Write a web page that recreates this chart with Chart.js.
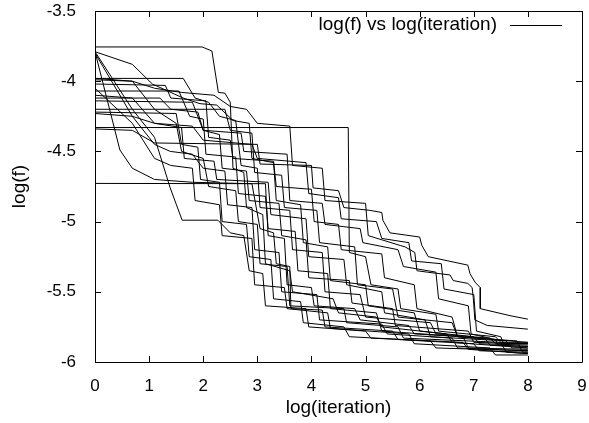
<!DOCTYPE html>
<html lang="en">
<head>
<meta charset="UTF-8">
<title>log(f) vs log(iteration)</title>
<script src="https://cdn.jsdelivr.net/npm/chart.js"></script>
<style>
    html, body { margin: 0; padding: 0; background: #fff; }
    #wrap { width: 589px; height: 423px; }
</style>
</head>
<body>
<div id="wrap"><canvas id="c" width="589" height="423"></canvas></div>
<script>
// each run: [log(iteration), log(f)] vertices of the best-so-far curve
const run01 = [[0,-3.756],[1.98,-3.756],[2.16,-3.785],[2.28,-4.08],[2.4,-4.085],[2.5,-4.15],[2.55,-4.62],[2.75,-4.65],[2.8,-4.9],[3.1,-4.95],[3.15,-5.3],[3.6,-5.35],[3.65,-5.5],[4.4,-5.55],[4.5,-5.65],[5.2,-5.68],[5.3,-5.75],[6.5,-5.8],[6.6,-5.86],[8,-5.9]];
const run02 = [[0,-3.79],[0.46,-4.49],[0.69,-4.62],[1.1,-4.70],[1.8,-4.72],[2.9,-4.73],[3.05,-5.05],[3.3,-5.08],[3.35,-5.3],[3.6,-5.32],[3.62,-5.62],[4.2,-5.63],[4.25,-5.75],[5.5,-5.78],[5.6,-5.84],[7.0,-5.87],[7.1,-5.92],[8,-5.93]];
const run03 = [[0,-4.728],[3.15,-4.73],[3.2,-5.1],[3.5,-5.12],[3.55,-5.45],[4.0,-5.47],[4.05,-5.6],[4.8,-5.62],[4.9,-5.7],[5.8,-5.74],[5.9,-5.8],[7.2,-5.83],[7.3,-5.88],[8,-5.89]];
const run04 = [[0,-3.79],[0.69,-4.2],[1.1,-4.4],[1.39,-4.76],[1.61,-4.99],[2.27,-4.99],[2.5,-5.08],[2.75,-5.1],[2.85,-5.35],[3.1,-5.37],[3.15,-5.6],[3.9,-5.62],[3.95,-5.75],[5.0,-5.78],[5.1,-5.83],[6.8,-5.86],[6.9,-5.91],[8,-5.94]];
const run05 = [[0,-3.79],[0.69,-3.88],[1.06,-4.02],[1.63,-4.12],[1.94,-4.16],[2.25,-4.17],[2.55,-4.28],[2.85,-4.3],[2.9,-4.55],[3.3,-4.58],[3.35,-4.85],[3.8,-4.88],[3.85,-5.15],[4.3,-5.18],[4.35,-5.42],[5.0,-5.45],[5.05,-5.6],[5.9,-5.65],[6.0,-5.78],[7.0,-5.82],[7.1,-5.87],[8,-5.88]];
const run06 = [[0,-3.8],[0.69,-4.25],[1.1,-4.45],[1.39,-4.5],[1.8,-4.52],[2.0,-4.62],[2.4,-4.64],[2.45,-4.88],[2.9,-4.9],[2.95,-5.2],[3.4,-5.22],[3.45,-5.5],[4.1,-5.52],[4.15,-5.7],[5.3,-5.73],[5.4,-5.8],[6.6,-5.83],[6.7,-5.9],[8,-5.92]];
const run07 = [[0,-3.98],[1.63,-3.98],[1.85,-4.12],[2.1,-4.15],[2.3,-4.25],[2.6,-4.28],[2.7,-4.6],[3.0,-4.62],[3.05,-4.9],[3.6,-4.92],[3.65,-5.2],[4.2,-5.22],[4.25,-5.5],[4.9,-5.52],[5.0,-5.68],[6.2,-5.72],[6.3,-5.8],[7.3,-5.83],[7.4,-5.87],[8,-5.87]];
const run08 = [[0,-3.99],[0.69,-4.0],[1.1,-4.2],[1.5,-4.3],[1.6,-4.5],[2.0,-4.55],[2.1,-4.75],[2.6,-4.78],[2.65,-5.0],[3.0,-5.02],[3.05,-5.3],[3.55,-5.32],[3.6,-5.6],[4.6,-5.62],[4.65,-5.72],[5.6,-5.75],[5.7,-5.83],[7.5,-5.86],[7.6,-5.93],[8,-5.94]];
const run09 = [[0,-4.02],[1.3,-4.03],[1.4,-4.12],[2.05,-4.14],[2.1,-4.4],[2.5,-4.42],[2.55,-4.55],[3.3,-4.57],[3.35,-4.75],[4.0,-4.77],[4.05,-5.0],[4.5,-5.02],[4.55,-5.2],[5.3,-5.23],[5.35,-5.4],[5.9,-5.45],[5.95,-5.62],[6.6,-5.68],[6.7,-5.82],[8,-5.86]];
const run10 = [[0,-4.07],[1.55,-4.07],[1.75,-4.25],[2.0,-4.27],[2.05,-4.52],[2.6,-4.54],[2.65,-4.8],[3.15,-4.82],[3.2,-5.05],[3.7,-5.07],[3.75,-5.35],[4.3,-5.37],[4.35,-5.62],[5.2,-5.65],[5.3,-5.78],[6.8,-5.82],[6.9,-5.9],[8,-5.91]];
const run11 = [[0,-4.10],[0.69,-4.12],[1.1,-4.3],[1.6,-4.33],[1.65,-4.55],[2.2,-4.57],[2.25,-4.7],[3.2,-4.72],[3.25,-4.95],[3.9,-4.98],[3.95,-5.25],[4.6,-5.27],[4.65,-5.45],[5.3,-5.5],[5.35,-5.65],[6.1,-5.7],[6.2,-5.82],[7.6,-5.85],[7.7,-5.9],[8,-5.9]];
const run12 = [[0,-4.12],[1.2,-4.12],[1.4,-4.2],[1.9,-4.22],[2.0,-4.35],[2.7,-4.37],[2.75,-4.5],[3.55,-4.52],[3.6,-4.85],[4.2,-4.87],[4.25,-5.02],[4.9,-5.05],[4.95,-5.15],[5.6,-5.2],[5.7,-5.32],[6.3,-5.36],[6.35,-5.55],[6.9,-5.6],[6.95,-5.8],[7.4,-5.84],[7.45,-5.88],[8,-5.89]];
const run13 = [[0,-4.14],[1.8,-4.15],[2.0,-4.35],[2.3,-4.38],[2.35,-4.62],[2.8,-4.64],[2.85,-4.85],[3.4,-4.87],[3.45,-5.1],[3.9,-5.13],[3.95,-5.4],[4.7,-5.42],[4.75,-5.58],[5.5,-5.62],[5.55,-5.74],[6.9,-5.78],[7.0,-5.86],[8,-5.87]];
const run14 = [[0,-4.2],[2.4,-4.2],[2.5,-4.35],[2.9,-4.37],[2.95,-4.65],[3.45,-4.67],[3.5,-4.9],[4.1,-4.92],[4.15,-5.15],[4.8,-5.18],[4.85,-5.45],[5.5,-5.48],[5.6,-5.68],[6.6,-5.72],[6.7,-5.82],[7.8,-5.85],[7.9,-5.93],[8,-5.93]];
const run15 = [[0,-4.22],[1.5,-4.23],[1.6,-4.45],[1.9,-4.47],[1.95,-4.7],[2.3,-4.72],[2.35,-5.0],[2.8,-5.02],[2.85,-5.25],[3.25,-5.27],[3.3,-5.55],[3.8,-5.57],[3.85,-5.72],[4.6,-5.75],[4.7,-5.82],[6.2,-5.85],[6.3,-5.9],[8,-5.92]];
const run16 = [[0,-4.23],[0.69,-4.25],[1.1,-4.3],[1.8,-4.32],[2.0,-4.42],[2.9,-4.45],[3.0,-4.55],[3.9,-4.58],[3.95,-4.8],[4.5,-4.83],[4.55,-4.98],[5.2,-5.0],[5.3,-5.12],[5.8,-5.15],[5.85,-5.28],[6.4,-5.3],[6.45,-5.48],[7.0,-5.52],[7.05,-5.78],[7.5,-5.82],[7.55,-5.87],[8,-5.87]];
const run17 = [[0,-4.33],[4.68,-4.33],[4.7,-5.22],[5.0,-5.25],[5.1,-5.45],[5.6,-5.48],[5.65,-5.62],[6.3,-5.66],[6.35,-5.78],[7.4,-5.82],[7.5,-5.86],[8,-5.86]];
const run18 = [[0,-4.34],[0.69,-4.35],[1.1,-4.44],[3.0,-4.45],[3.05,-4.59],[4.0,-4.6],[4.03,-4.76],[4.5,-4.78],[4.6,-4.9],[5.08,-4.92],[5.3,-4.935],[5.32,-4.99],[5.45,-5.08],[6.0,-5.11],[6.04,-5.17],[6.16,-5.25],[6.89,-5.31],[6.93,-5.37],[7.02,-5.43],[7.12,-5.47],[7.12,-5.62],[7.67,-5.67],[8,-5.695]];
const run19 = [[0,-3.98],[0.69,-4.0],[1.1,-4.05],[1.6,-4.08],[2.2,-4.1],[2.5,-4.18],[2.8,-4.2],[3.0,-4.3],[3.6,-4.32],[3.65,-4.6],[4.2,-4.62],[4.25,-4.85],[5.0,-4.87],[5.05,-5.1],[5.64,-5.17],[5.73,-5.18],[5.91,-5.22],[5.95,-5.35],[6.14,-5.36],[6.56,-5.38],[6.62,-5.42],[6.89,-5.44],[6.97,-5.47],[6.99,-5.54],[7.02,-5.70],[7.25,-5.74],[8,-5.766]];
const run20 = [[0,-4.05],[0.69,-4.3],[1.1,-4.55],[1.4,-4.6],[1.8,-4.62],[1.85,-4.85],[2.3,-4.88],[2.35,-5.1],[2.9,-5.12],[2.95,-5.45],[3.5,-5.47],[3.55,-5.62],[4.3,-5.65],[4.35,-5.76],[5.8,-5.8],[5.9,-5.87],[7.3,-5.9],[7.4,-5.95],[8,-5.95]];

const runs = [run01, run02, run03, run04, run05, run06, run07, run08, run09, run10,
              run11, run12, run13, run14, run15, run16, run17, run18, run19, run20];

const xTicks = [0, 1, 2, 3, 4, 5, 6, 7, 8, 9];
const yTicks = [-6, -5.5, -5, -4.5, -4, -3.5];
const seriesLabel = 'log(f) vs log(iteration)';

const FONT = '"Liberation Sans", Arial, Helvetica, sans-serif';

// gnuplot style frame: full box with inward ticks on all four sides, plus key
const framePlugin = {
    id: 'frame',
    afterDraw(chart) {
        const ctx = chart.ctx;
        const a = chart.chartArea;
        const xs = chart.scales.x, ys = chart.scales.y;
        const len = 6;
        ctx.save();
        ctx.strokeStyle = '#000';
        ctx.lineWidth = 1;
        ctx.beginPath();
        ctx.rect(Math.round(a.left) + 0.5, Math.round(a.top) + 0.5,
                 Math.round(a.right - a.left), Math.round(a.bottom - a.top));
        xTicks.forEach(v => {
            const px = Math.round(xs.getPixelForValue(v)) + 0.5;
            ctx.moveTo(px, a.bottom); ctx.lineTo(px, a.bottom - len);
            ctx.moveTo(px, a.top); ctx.lineTo(px, a.top + len);
        });
        yTicks.forEach(v => {
            const py = Math.round(ys.getPixelForValue(v)) + 0.5;
            ctx.moveTo(a.left, py); ctx.lineTo(a.left + len, py);
            ctx.moveTo(a.right, py); ctx.lineTo(a.right - len, py);
        });
        ctx.stroke();

        // key
        const ky = a.top + 14;
        ctx.font = '19px ' + FONT;
        ctx.fillStyle = '#000';
        ctx.textAlign = 'right';
        ctx.textBaseline = 'middle';
        ctx.fillText(seriesLabel, a.right - 85, ky);
        ctx.beginPath();
        ctx.moveTo(a.right - 72, ky + 0.5);
        ctx.lineTo(a.right - 20, ky + 0.5);
        ctx.stroke();
        ctx.restore();
    }
};

const datasets = runs.map((r, i) => ({
    label: i === 0 ? seriesLabel : '',
    data: r.map(p => ({ x: p[0], y: p[1] })),
    showLine: true,
    borderColor: '#000',
    borderWidth: 1,
    pointRadius: 0,
    tension: 0,
    fill: false
}));

new Chart(document.getElementById('c'), {
    type: 'scatter',
    data: { datasets: datasets },
    options: {
        responsive: false,
        animation: false,
        layout: { padding: { top: 11, right: 7, left: 0, bottom: 0 } },
        plugins: { legend: { display: false }, tooltip: { enabled: false } },
        scales: {
            x: {
                type: 'linear',
                min: 0, max: 9,
                afterFit(s) { s.height = 61; s.paddingLeft = 0; s.paddingRight = 0; },
                afterBuildTicks(s) { s.ticks = xTicks.map(v => ({ value: v })); },
                grid: { display: false },
                border: { display: false },
                ticks: { color: '#000', font: { family: FONT, size: 17 }, padding: 6, maxRotation: 0,
                         callback: v => String(v) },
                title: { display: true, text: 'log(iteration)', color: '#000',
                         font: { family: FONT, size: 19 }, padding: { top: 4, bottom: 4 } }
            },
            y: {
                type: 'linear',
                min: -6, max: -3.5,
                afterFit(s) { s.width = 95; s.paddingTop = 0; s.paddingBottom = 0; },
                afterBuildTicks(s) { s.ticks = yTicks.map(v => ({ value: v })); },
                grid: { display: false },
                border: { display: false },
                ticks: { color: '#000', font: { family: FONT, size: 17 }, padding: 11,
                         callback: v => String(v) },
                title: { display: true, text: 'log(f)', color: '#000',
                         font: { family: FONT, size: 19 }, padding: { top: 8, bottom: 4 } }
            }
        }
    },
    plugins: [framePlugin]
});
</script>
</body>
</html>
